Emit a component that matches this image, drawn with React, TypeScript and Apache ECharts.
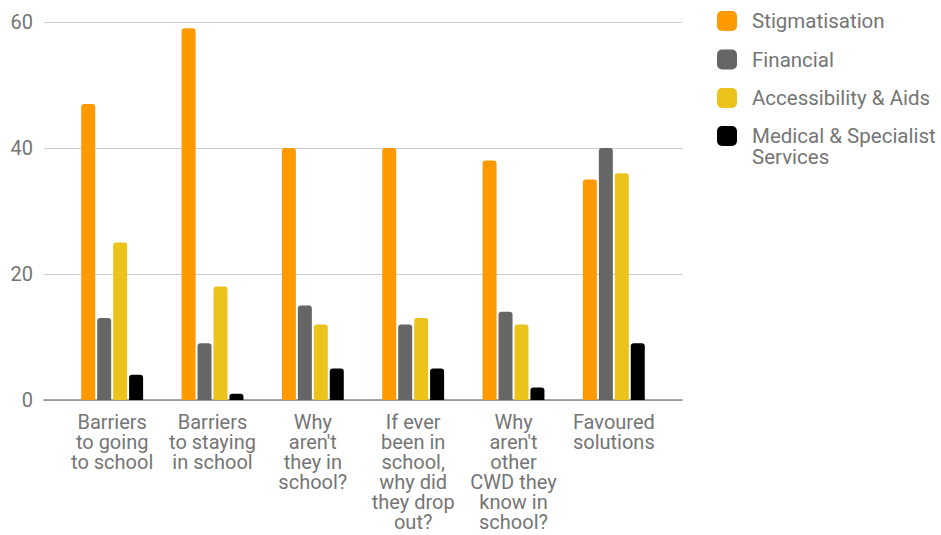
import React, { useEffect, useRef } from "react";
import * as echarts from "echarts";

const categories = [
  "Barriers\nto going\nto school",
  "Barriers\nto staying\nin school",
  "Why\naren't\nthey in\nschool?",
  "If ever\nbeen in\nschool,\nwhy did\nthey drop\nout?",
  "Why\naren't\nother\nCWD they\nknow in\nschool?",
  "Favoured\nsolutions",
];
const seriesNames = ["Stigmatisation", "Financial", "Accessibility & Aids", "Medical & Specialist Services"];
const stigmatisation = [47, 59, 40, 40, 38, 35];
const financial = [13, 9, 15, 12, 14, 40];
const accessibility = [25, 18, 12, 13, 12, 36];
const medical = [4, 1, 5, 5, 2, 9];
const yTicks = [0, 20, 40, 60];
const colors = ["#FF9900", "#666666", "#EBC31B", "#000000"];

export default function App() {
  const ref = useRef<HTMLDivElement>(null);
  useEffect(() => {
    if (!ref.current) return;
    const chart = echarts.init(ref.current, null, { renderer: "svg" });
    const font = "Roboto";
    const labelColor = "#757575";
    const values = [stigmatisation, financial, accessibility, medical];
    const legendText = { color: labelColor, fontSize: 20.5, lineHeight: 21, fontFamily: font, padding: [0, 0, 0, 10] };
    chart.setOption({
      animation: false,
      textStyle: { fontFamily: font },
      grid: [
        { left: 44, right: 259, top: 22, bottom: 135, containLabel: false },
        { left: 62, right: 277, top: 22, bottom: 135, containLabel: false },
      ],
      xAxis: [
        {
          gridIndex: 0,
          type: "value",
          min: 0,
          max: 1,
          axisLine: { show: true, onZero: false, lineStyle: { color: "#8a8a8a", width: 1.5 } },
          axisTick: { show: false },
          axisLabel: { show: false },
          splitLine: { show: false },
        },
        {
          gridIndex: 1,
          type: "category",
          data: categories,
          axisLine: { show: false },
          axisTick: { show: false },
          axisLabel: {
            interval: 0,
            margin: 12,
            color: labelColor,
            fontSize: 20,
            lineHeight: 20,
            fontFamily: font,
            align: "center",
          },
        },
      ],
      yAxis: [
        {
          gridIndex: 0,
          type: "value",
          min: yTicks[0],
          max: yTicks[yTicks.length - 1],
          interval: 20,
          axisLine: { show: false },
          axisTick: { show: false },
          axisLabel: { margin: 11, color: labelColor, fontSize: 20, fontFamily: font },
          splitLine: { lineStyle: { color: "#cccccc", width: 1 } },
        },
        {
          gridIndex: 1,
          type: "value",
          min: yTicks[0],
          max: yTicks[yTicks.length - 1],
          show: false,
          splitLine: { show: false },
        },
      ],
      legend: [
        {
          orient: "vertical",
          left: 717,
          top: 10.5,
          padding: 0,
          itemWidth: 20,
          itemHeight: 20,
          itemGap: 17.5,
          icon: "roundRect",
          data: seriesNames.slice(0, 3),
          textStyle: legendText,
        },
        {
          orient: "vertical",
          left: 717,
          top: 104.5,
          padding: 0,
          itemWidth: 20,
          itemHeight: 20,
          icon: "roundRect",
          data: seriesNames.slice(3),
          formatter: () => "{e| }\n{t|Medical & Specialist}\n{t|Services}",
          textStyle: {
            ...legendText,
            rich: {
              e: { fontSize: 20.5, lineHeight: 21, color: labelColor, fontFamily: font },
              t: { fontSize: 20.5, lineHeight: 21, color: labelColor, fontFamily: font },
            },
          },
        },
      ],
      series: seriesNames.map((name, i) => ({
        name,
        type: "bar",
        xAxisIndex: 1,
        yAxisIndex: 1,
        data: values[i],
        barWidth: 14,
        barGap: "14%",
        itemStyle: { color: colors[i], borderRadius: [3, 3, 0, 0] },
      })),
    });
    return () => chart.dispose();
  }, []);
  return <div ref={ref} style={{ width: 941, height: 535, position: "absolute", left: 0, top: 0 }} />;
}
